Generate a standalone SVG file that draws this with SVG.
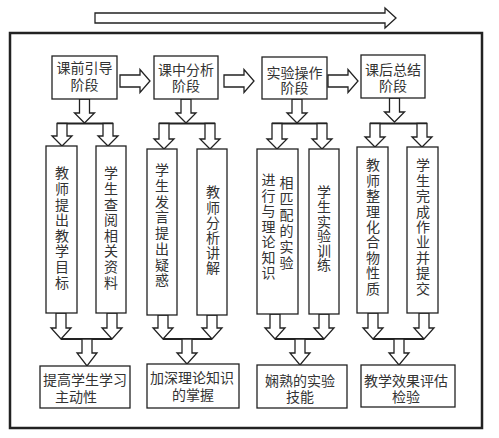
<svg xmlns="http://www.w3.org/2000/svg" width="499" height="438" viewBox="0 0 499 438">
<style>
.box{fill:#fff;stroke:#222;stroke-width:1.3}
.arr{fill:#fff;stroke:#222;stroke-width:1.3;stroke-linejoin:miter}
.bar{stroke:#222;stroke-width:2;fill:none}
.t{font-family:"Liberation Sans","Noto Sans CJK SC","Noto Sans CJK JP",sans-serif;font-size:14px;fill:#333;text-anchor:middle}
.v{font-family:"Noto Sans CJK SC","Noto Sans CJK JP",sans-serif;font-size:14px;fill:#333;text-anchor:start;writing-mode:vertical-rl;text-orientation:upright}
</style>
<rect width="499" height="438" fill="#fff"/>
<rect id="frame" x="10" y="33" width="472" height="395" fill="none" stroke="#222" stroke-width="2.5"/>
<g id="connectors">
<polygon class="arr" points="95,13 385,13 385,8 396,18 385,28 385,23 95,23"/>
<polygon class="arr" points="120,75 140,75 140,69.5 150,81 140,92.5 140,87 120,87"/>
<polygon class="arr" points="224,75 244,75 244,69.5 254,81 244,92.5 244,87 224,87"/>
<polygon class="arr" points="328,75 348,75 348,69.5 358,81 348,92.5 348,87 328,87"/>
<polygon class="arr" points="79.5,99 79.5,113 74.5,113 84.5,123 94.5,113 89.5,113 89.5,99"/>
<polygon class="arr" points="181,99 181,113 176,113 186,123 196,113 191,113 191,99"/>
<polygon class="arr" points="292,99 292,113 287,113 297,123 307,113 302,113 302,99"/>
<polygon class="arr" points="389.5,98 389.5,112 384.5,112 394.5,122 404.5,112 399.5,112 399.5,98"/>
<line class="bar" x1="57" y1="123.5" x2="113" y2="123.5"/>
<line class="bar" x1="159" y1="123.5" x2="215" y2="123.5"/>
<line class="bar" x1="272" y1="123.5" x2="327" y2="123.5"/>
<line class="bar" x1="370" y1="123.5" x2="427" y2="123.5"/>
<polygon class="arr" points="57,123.5 57,136 52,136 62,146 72,136 67,136 67,123.5"/>
<polygon class="arr" points="103,123.5 103,136 98,136 108,146 118,136 113,136 113,123.5"/>
<polygon class="arr" points="159,123.5 159,139 154,139 164,149 174,139 169,139 169,123.5"/>
<polygon class="arr" points="205,123.5 205,139 200,139 210,149 220,139 215,139 215,123.5"/>
<polygon class="arr" points="272,123.5 272,139 267,139 277,149 287,139 282,139 282,123.5"/>
<polygon class="arr" points="317,123.5 317,139 312,139 322,149 332,139 327,139 327,123.5"/>
<polygon class="arr" points="370,123.5 370,137 365,137 375,147 385,137 380,137 380,123.5"/>
<polygon class="arr" points="417,123.5 417,137 412,137 422,147 432,137 427,137 427,123.5"/>
<polygon class="arr" points="56,313 56,328 51,328 61,339 71,328 66,328 66,313"/>
<polygon class="arr" points="107,313 107,328 102,328 112,339 122,328 117,328 117,313"/>
<polygon class="arr" points="158,315 158,328 153,328 163,339 173,328 168,328 168,315"/>
<polygon class="arr" points="207,315 207,328 202,328 212,339 222,328 217,328 217,315"/>
<polygon class="arr" points="270,314 270,328 265,328 275,339 285,328 280,328 280,314"/>
<polygon class="arr" points="319,314 319,328 314,328 324,339 334,328 329,328 329,314"/>
<polygon class="arr" points="368,313 368,328 363,328 373,339 383,328 378,328 378,313"/>
<polygon class="arr" points="419,313 419,328 414,328 424,339 434,328 429,328 429,313"/>
<line class="bar" x1="61" y1="339" x2="112" y2="339"/>
<line class="bar" x1="163" y1="339" x2="212" y2="339"/>
<line class="bar" x1="275" y1="339" x2="324" y2="339"/>
<line class="bar" x1="373" y1="339" x2="424" y2="339"/>
<polygon class="arr" points="82,339 82,353 77,353 87,366 97,353 92,353 92,339"/>
<polygon class="arr" points="182,339 182,353 177,353 187,364 197,353 192,353 192,339"/>
<polygon class="arr" points="295,339 295,353 290,353 300,365 310,353 305,353 305,339"/>
<polygon class="arr" points="394,339 394,353 389,353 399,365 409,353 404,353 404,339"/>
</g>
<g id="stage1"><rect class="box" x="52" y="56" width="65" height="43"/><text class="t" x="84.5" y="73.3">课前引导</text><text class="t" x="84.5" y="90.3">阶段</text></g>
<g id="stage2"><rect class="box" x="154" y="56" width="64" height="43"/><text class="t" x="186" y="75.3">课中分析</text><text class="t" x="186" y="91.3">阶段</text></g>
<g id="stage3"><rect class="box" x="262" y="57" width="65" height="42"/><text class="t" x="294.5" y="78">实验操作</text><text class="t" x="294.5" y="93">阶段</text></g>
<g id="stage4"><rect class="box" x="361" y="55" width="64" height="43"/><text class="t" x="393" y="75.3">课后总结</text><text class="t" x="393" y="91.3">阶段</text></g>
<g id="col1"><rect class="box" x="46" y="146" width="31" height="167"/><text class="v" x="62" y="166" style="letter-spacing:1.6px">教师提出教学目标</text></g>
<g id="col2"><rect class="box" x="96" y="146" width="30" height="167"/><text class="v" x="111" y="166" style="letter-spacing:1.6px">学生查阅相关资料</text></g>
<g id="col3"><rect class="box" x="147" y="149" width="30" height="166"/><text class="v" x="162" y="163" style="letter-spacing:1.7px">学生发言提出疑惑</text></g>
<g id="col4"><rect class="box" x="197" y="149" width="30" height="166"/><text class="v" x="213" y="185" style="letter-spacing:1.2px">教师分析讲解</text></g>
<g id="col5"><rect class="box" x="257" y="149" width="41" height="165"/><text class="v" x="268.5" y="173" style="letter-spacing:1.5px">进行与理论知识</text><text class="v" x="286.5" y="176" style="letter-spacing:2px">相匹配的实验</text></g>
<g id="col6"><rect class="box" x="309" y="149" width="30" height="165"/><text class="v" x="324" y="185" style="letter-spacing:0.6px">学生实验训练</text></g>
<g id="col7"><rect class="box" x="357" y="147" width="31" height="166"/><text class="v" x="373" y="158" style="letter-spacing:1.4px">教师整理化合物性质</text></g>
<g id="col8"><rect class="box" x="407" y="147" width="31" height="166"/><text class="v" x="423" y="158" style="letter-spacing:1.4px">学生完成作业并提交</text></g>
<g id="result1"><rect class="box" x="40" y="366" width="90" height="42"/><text class="t" x="85" y="385.3">提高学生学习</text><text class="t" x="76" y="402.3">主动性</text></g>
<g id="result2"><rect class="box" x="147" y="364" width="92" height="44"/><text class="t" x="192" y="383.3">加深理论知识</text><text class="t" x="193" y="400.3">的掌握</text></g>
<g id="result3"><rect class="box" x="257" y="365" width="90" height="43"/><text class="t" x="300" y="386.3">娴熟的实验</text><text class="t" x="300" y="402.3">技能</text></g>
<g id="result4"><rect class="box" x="361" y="365" width="94" height="42"/><text class="t" x="406" y="386.3">教学效果评估</text><text class="t" x="406" y="402.3">检验</text></g>
</svg>
